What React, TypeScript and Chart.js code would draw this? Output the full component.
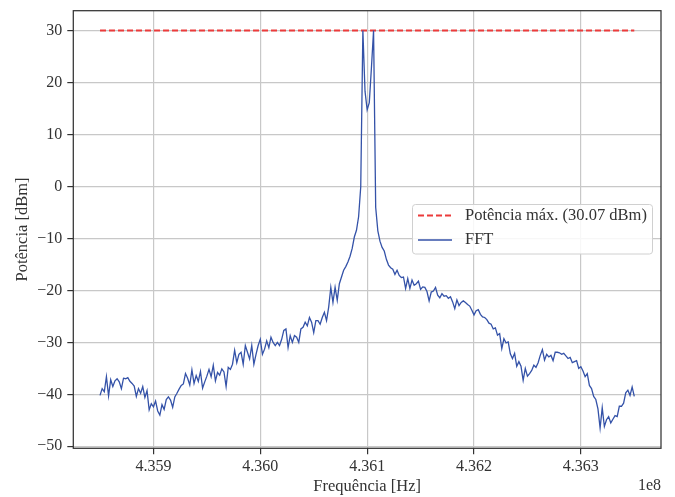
import React, { useEffect, useRef } from 'react';
import { Chart, registerables } from 'chart.js';

Chart.register(...registerables);

// Frequency grid of the FFT, in units of 1e8 Hz
const FREQ_START = 4.3585;
const FREQ_STEP = 0.00002;

// FFT power [dBm], one value per frequency bin
const FFT_DBM = [
  -40.2, -38.9, -39.5, -36.6, -40.3, -37.2, -38.5, -37.4, -37.0, -37.6,
  -38.9, -36.9, -37.0, -36.8, -37.5, -37.9, -38.4, -40.4, -38.9, -39.8,
  -38.5, -40.6, -39.3, -43.0, -41.8, -42.4, -41.3, -43.2, -44.0, -42.0,
  -42.9, -41.0, -40.5, -41.1, -42.5, -40.5, -39.8, -39.0, -38.3, -38.0,
  -36.0, -36.9, -38.2, -35.3, -37.9, -36.4, -37.5, -35.6, -38.8, -37.6,
  -36.5, -35.2, -36.6, -34.4, -37.4, -35.8, -36.3, -35.1, -35.7, -38.5,
  -34.8, -35.2, -34.2, -31.5,
  -33.9, -32.3, -31.9, -34.2, -30.6, -31.9, -33.2, -30.6, -34.2, -32.3,
  -30.6, -29.4, -32.3, -31.3, -29.7, -31.0, -29.0, -30.0, -30.6, -30.0,
  -30.6, -29.4, -27.7, -27.4, -31.0, -28.7, -30.0, -28.7, -29.0, -30.0,
  -27.4, -27.1, -26.1, -26.8, -25.2, -26.1, -28.1, -25.8, -25.8, -26.5,
  -25.2, -24.2, -25.8, -23.2, -19.4, -22.3, -19.4, -21.9, -18.7, -17.4,
  -16.1, -15.4, -14.5, -13.4, -11.9, -9.7, -8.4, -5.8, 0.0,
  30.07, 18.4, 14.8, 16.2, 22.9, 30.07, -4.0, -8.5, -10.5, -11.7, -12.4,
  -14.0, -15.1, -15.6, -15.9, -16.9, -16.1, -17.1, -17.5, -17.4, -19.6,
  -17.7, -19.6, -18.0, -19.0, -18.7, -18.2, -19.8, -19.3, -19.4, -20.2,
  -22.0, -20.3, -20.1, -19.4, -20.9, -21.4, -20.6, -21.1, -21.0, -21.5,
  -21.2, -22.2, -23.5, -21.8, -22.9, -22.3, -22.0, -22.3, -22.7, -23.0,
  -23.8, -24.7, -23.9, -23.7, -24.6, -25.1, -25.2, -25.6, -26.3, -26.5,
  -27.4, -27.2, -28.6, -28.3, -31.2, -29.3, -30.1, -29.9, -32.2,
  -33.1, -32.1, -34.6, -33.7, -34.6, -37.3, -35.0, -36.5, -36.0, -35.4,
  -34.4, -34.8, -33.9, -32.5, -31.4, -33.4, -32.3, -32.8, -32.5, -33.5,
  -31.9, -31.9, -32.0, -32.3, -32.1, -32.6, -33.1, -32.9, -33.9, -33.7,
  -33.5, -35.0, -34.7, -35.5, -36.6, -36.0, -38.3, -38.9, -40.4, -41.0,
  -42.8, -46.5, -42.6, -46.2, -44.9, -44.3, -45.5, -44.8, -44.1, -44.3,
  -42.3, -42.3, -41.7, -39.7, -39.2, -40.2, -38.6, -40.4,
];

const MAX_POWER = 30.07;
const MAX_LINE_X = [4.3585, 4.3635];

const X_TICKS = [4.359, 4.36, 4.361, 4.362, 4.363];
const Y_TICKS = [-50, -40, -30, -20, -10, 0, 10, 20, 30];
const X_RANGE = [4.35825, 4.36375];
const Y_RANGE = [-50.4, 33.9];

const LEGEND_LABELS = ['Potência máx. (30.07 dBm)', 'FFT'];
const X_TITLE = 'Frequência [Hz]';
const Y_TITLE = 'Potência [dBm]';
const OFFSET_TEXT = '1e8';

const BLUE = '#3452a8';
const RED = '#ec3b3b';
const TEXT = '#333333';
const FONT = '"Liberation Serif", "Times New Roman", serif';
const FS = 16;
const FS_BIG = 16.5;

const decorPlugin = {
  id: 'decor',
  afterDraw(chart: any) {
    const { ctx, chartArea: a } = chart;
    ctx.save();
    // frame
    ctx.strokeStyle = '#333333';
    ctx.lineWidth = 1.25;
    ctx.strokeRect(a.left, a.top, a.right - a.left, a.bottom - a.top);

    // legend box
    const bx = 412.5, by = 204.5, bw = 240, bh = 49.5, r = 3;
    ctx.beginPath();
    ctx.moveTo(bx + r, by);
    ctx.lineTo(bx + bw - r, by);
    ctx.arcTo(bx + bw, by, bx + bw, by + r, r);
    ctx.lineTo(bx + bw, by + bh - r);
    ctx.arcTo(bx + bw, by + bh, bx + bw - r, by + bh, r);
    ctx.lineTo(bx + r, by + bh);
    ctx.arcTo(bx, by + bh, bx, by + bh - r, r);
    ctx.lineTo(bx, by + r);
    ctx.arcTo(bx, by, bx + r, by, r);
    ctx.closePath();
    ctx.fillStyle = 'rgba(255,255,255,0.85)';
    ctx.fill();
    ctx.strokeStyle = '#d0d0d0';
    ctx.lineWidth = 1;
    ctx.stroke();

    const rows = [215.5, 240];
    ctx.setLineDash([6, 3]);
    ctx.strokeStyle = RED;
    ctx.lineWidth = 2;
    ctx.beginPath();
    ctx.moveTo(418, rows[0]);
    ctx.lineTo(452, rows[0]);
    ctx.stroke();
    ctx.setLineDash([]);
    ctx.strokeStyle = BLUE;
    ctx.lineWidth = 1.3;
    ctx.beginPath();
    ctx.moveTo(418, rows[1]);
    ctx.lineTo(452, rows[1]);
    ctx.stroke();

    ctx.fillStyle = TEXT;
    ctx.font = `${FS_BIG}px ${FONT}`;
    ctx.textBaseline = 'middle';
    ctx.textAlign = 'left';
    ctx.fillText(LEGEND_LABELS[0], 465, rows[0]);
    ctx.fillText(LEGEND_LABELS[1], 465, rows[1]);

    ctx.font = `${FS}px ${FONT}`;
    ctx.textAlign = 'right';
    ctx.fillText(OFFSET_TEXT, a.right, 486);
    ctx.restore();
  },
};

export default function App() {
  const ref = useRef<HTMLCanvasElement>(null);

  useEffect(() => {
    const canvas = ref.current;
    if (!canvas) return;
    const fftData = FFT_DBM.map((v, i) => ({ x: FREQ_START + i * FREQ_STEP, y: v }));
    const maxData = MAX_LINE_X.map((x) => ({ x, y: MAX_POWER }));

    const chart = new Chart(canvas, {
      type: 'line',
      data: {
        datasets: [
          {
            label: LEGEND_LABELS[1],
            data: fftData,
            borderColor: BLUE,
            borderWidth: 1.3,
            pointRadius: 0,
            tension: 0,
            fill: false,
          },
          {
            label: LEGEND_LABELS[0],
            data: maxData,
            borderColor: RED,
            borderWidth: 2,
            borderDash: [6, 3],
            pointRadius: 0,
            tension: 0,
            fill: false,
          },
        ],
      },
      options: {
        responsive: false,
        animation: false,
        devicePixelRatio: 1,
        events: [],
        layout: { padding: { left: 0, right: 14, top: 10.7, bottom: 0 } },
        plugins: { legend: { display: false }, tooltip: { enabled: false } },
        scales: {
          x: {
            type: 'linear',
            min: X_RANGE[0],
            max: X_RANGE[1],
            afterBuildTicks: (s: any) => {
              s.ticks = X_TICKS.map((v) => ({ value: v }));
            },
            afterFit: (s: any) => {
              s.height = 497 - 448.3;
              s.paddingLeft = 0;
              s.paddingRight = 0;
            },
            ticks: {
              autoSkip: false,
              maxRotation: 0,
              padding: 3,
              color: TEXT,
              font: { family: FONT, size: FS },
              callback: (v: any) => Number(v).toFixed(3),
            },
            grid: {
              color: '#c8c8c8',
              lineWidth: 1.2,
              tickLength: 6,
              tickColor: '#333333',
              tickWidth: 1.2,
            },
            border: { display: false },
            title: {
              display: true,
              text: X_TITLE,
              color: TEXT,
              font: { family: FONT, size: FS_BIG },
              padding: { top: 0, bottom: 0 },
            },
          },
          y: {
            type: 'linear',
            min: Y_RANGE[0],
            max: Y_RANGE[1],
            afterBuildTicks: (s: any) => {
              s.ticks = Y_TICKS.map((v) => ({ value: v }));
            },
            afterFit: (s: any) => {
              s.width = 73.3;
              s.paddingTop = 0;
              s.paddingBottom = 0;
            },
            ticks: {
              autoSkip: false,
              padding: 5,
              color: TEXT,
              font: { family: FONT, size: FS },
              callback: (v: any) => (Number(v) < 0 ? '\u2212' + Math.abs(Number(v)) : String(v)),
            },
            grid: {
              color: '#c8c8c8',
              lineWidth: 1.2,
              tickLength: 6,
              tickColor: '#333333',
              tickWidth: 1.2,
            },
            border: { display: false },
            title: {
              display: true,
              text: Y_TITLE,
              color: TEXT,
              font: { family: FONT, size: FS_BIG },
              padding: { top: 13, bottom: 0 },
            },
          },
        },
      },
      plugins: [decorPlugin],
    });
    return () => chart.destroy();
  }, []);

  return (
    <div style={{ position: 'fixed', left: 0, top: 0, width: 675, height: 497, background: '#ffffff' }}>
      <canvas ref={ref} width={675} height={497} style={{ display: 'block', width: 675, height: 497 }} />
    </div>
  );
}
